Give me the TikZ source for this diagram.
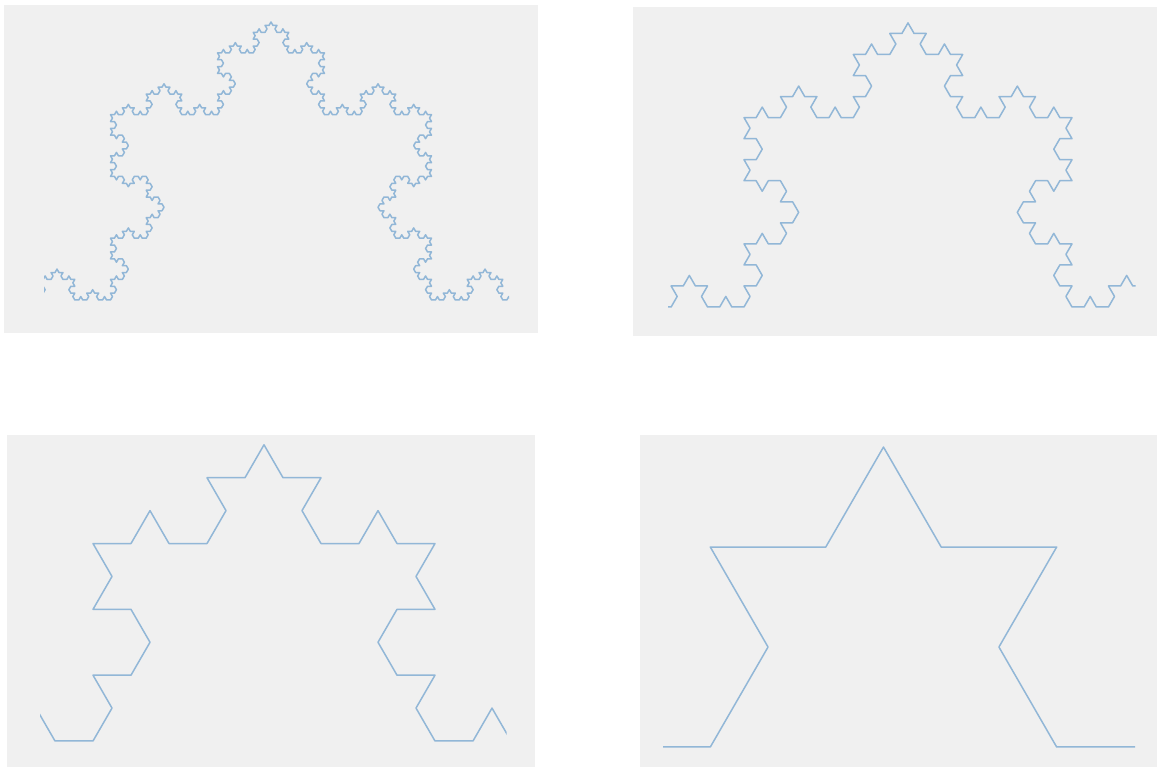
\documentclass[tikz,border=0pt]{standalone}
\usetikzlibrary{lindenmayersystems}
\definecolor{panelbg}{RGB}{240,240,240}
\definecolor{kochblue}{RGB}{146,183,215}
\pgfdeclarelindenmayersystem{Koch}{\rule{F -> F+F--F+F}}
\tikzset{
  kochline/.style={draw=kochblue, line width=1.5pt, line join=round, line cap=round},
  panel/.style={fill=panelbg}
}
\begin{document}
\begin{tikzpicture}[x=1pt,y=1pt]
\useasboundingbox[fill=white] (0,0) rectangle (1157,767);
% ---------- top-left: order 5 ----------
\fill[panel] (4,434) rectangle (538,762);
\begin{scope}
  \clip (44,434) rectangle (509,762);
  \begin{scope}[shift={(-210.5pt,467pt)}]
    \draw[kochline, l-system={Koch, axiom=F, order=5, step=3.963pt, angle=60}] (0,0) lindenmayer system;
  \end{scope}
\end{scope}
% ---------- top-right: order 4 ----------
\fill[panel] (633,431) rectangle (1157,760);
\begin{scope}
  \clip (668,431) rectangle (1135.5,760);
  \begin{scope}[shift={(416pt,460pt)}]
    \draw[kochline, l-system={Koch, axiom=F, order=4, step=12.148pt, angle=60}] (0,0) lindenmayer system;
  \end{scope}
\end{scope}
% ---------- bottom-left: order 3 ----------
\fill[panel] (7,0) rectangle (535,332);
\begin{scope}
  \clip (40,0) rectangle (506.5,332);
  \begin{scope}[shift={(-249pt,26pt)}]
    \draw[kochline, l-system={Koch, axiom=F, order=3, step=38pt, angle=60}] (0,0) lindenmayer system;
  \end{scope}
\end{scope}
% ---------- bottom-right: order 2 ----------
\fill[panel] (640,0) rectangle (1157,332);
\begin{scope}
  \clip (663,0) rectangle (1135,332);
  \begin{scope}[shift={(364pt,20pt)}]
    \draw[kochline, l-system={Koch, axiom=F, order=2, step=115.44pt, angle=60}] (0,0) lindenmayer system;
  \end{scope}
\end{scope}
\end{tikzpicture}
\end{document}
